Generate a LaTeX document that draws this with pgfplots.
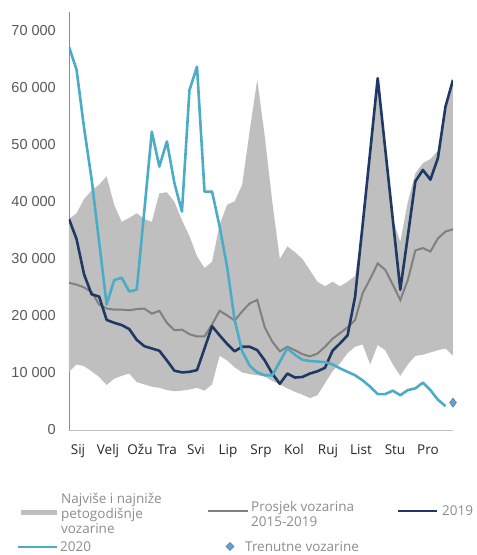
\documentclass[border=0pt]{standalone}
\usepackage{pgfplots}
\pgfplotsset{compat=1.18}
\usepackage{pgfplotstable}
\usepgfplotslibrary{fillbetween}
\usetikzlibrary{shapes.geometric}
\usepackage{fontspec}
\setmainfont{Open Sans}
\newfontfamily\arial{Liberation Sans}

\definecolor{band}{HTML}{BFBFBF}
\definecolor{avgc}{HTML}{808080}
\definecolor{navy}{HTML}{1F3864}
\definecolor{aqua}{HTML}{4BACC6}
\definecolor{txt}{HTML}{595959}
\definecolor{legtxt}{HTML}{8C8C8C}
\definecolor{axy}{HTML}{8C8C8C}
\definecolor{axx}{HTML}{BFBFBF}
\definecolor{dia}{HTML}{6E9FC8}
\definecolor{diab}{HTML}{4A7FAF}

% tjedni podaci, u tisucama
\pgfplotstableread{
w up lo avg a19
1 37.0 10.2 25.8 37.0
2 38.0 11.5 25.5 33.5
3 40.5 11.2 25.0 27.3
4 42.0 10.3 24.2 23.8
5 43.0 9.3 22.0 23.4
6 44.5 7.9 21.3 19.3
7 39.5 9.0 21.1 18.8
8 36.5 9.5 21.1 18.4
9 37.2 9.9 21.0 17.7
10 38.0 8.4 21.2 15.8
11 37.0 8.0 21.3 14.7
12 36.5 7.6 20.4 14.3
13 41.5 7.4 20.9 13.9
14 41.7 7.0 18.8 12.2
15 40.0 6.8 17.5 10.4
16 36.8 6.9 17.6 10.1
17 34.0 7.1 16.8 10.2
18 30.5 7.4 16.4 10.5
19 28.4 6.9 16.4 14.3
20 29.5 8.0 18.5 18.2
21 36.0 13.0 20.9 16.6
22 39.5 12.2 20.1 15.1
23 40.1 11.0 19.2 13.8
24 43.0 10.1 20.8 14.6
25 52.5 9.8 22.2 14.6
26 61.4 9.6 22.8 14.0
27 51.5 9.4 18.0 12.2
28 40.0 8.6 15.5 9.9
29 30.0 8.0 13.8 8.1
30 32.2 7.3 14.6 9.9
31 31.2 6.7 14.0 9.2
32 30.0 6.2 13.3 9.3
33 28.0 5.6 12.9 9.9
34 26.0 6.1 13.4 10.3
35 25.2 8.2 14.6 10.9
36 26.0 10.3 16.0 13.9
37 25.2 11.7 17.0 15.2
38 26.0 13.5 18.0 16.6
39 27.0 14.6 19.3 23.4
40 36.0 15.0 24.0 36.0
41 49.0 11.5 26.5 48.8
42 61.7 14.9 29.2 61.7
43 49.3 14.0 28.1 49.3
44 37.0 11.5 25.5 37.0
45 33.0 9.5 22.8 24.6
46 40.0 11.5 26.3 34.0
47 45.0 13.0 31.5 43.6
48 46.8 13.2 31.9 45.6
49 47.5 13.6 31.3 43.9
50 49.0 14.0 33.6 47.7
51 56.7 14.3 34.8 56.7
52 61.4 13.0 35.2 61.4
}\tjedni

\pgfplotstableread{
w a20
1 67.2
2 63.2
3 53.0
4 44.0
5 33.0
6 22.0
7 26.3
8 26.7
9 24.3
10 24.6
11 38.4
12 52.3
13 46.2
14 50.6
15 43.3
16 38.3
17 59.6
18 63.7
19 41.8
20 41.8
21 35.7
22 28.6
23 19.3
24 13.8
25 11.3
26 10.1
27 9.6
28 9.6
29 12.0
30 14.3
31 13.2
32 12.3
33 12.1
34 12.0
35 11.9
36 11.5
37 10.8
38 10.2
39 9.6
40 8.7
41 7.6
42 6.3
43 6.3
44 6.9
45 6.1
46 7.0
47 7.3
48 8.3
49 7.0
50 5.3
51 4.2
}\godina

\begin{document}
\begin{tikzpicture}
\begin{axis}[
    at={(0pt,0pt)}, anchor=south west,
    scale only axis, width=384pt, height=418pt,
    xmin=1, xmax=52, ymin=0, ymax=73.3,
    axis x line=bottom, axis y line=left,
    x axis line style={-, draw=axx, line width=1pt},
    y axis line style={-, draw=axy, line width=0.8pt},
    major tick length=0pt,
    ytick={0,10,20,30,40,50,60,70},
    yticklabels={0,10 000,20 000,30 000,40 000,50 000,60 000,70 000},
    yticklabel style={font=\arial\fontsize{14.5}{15}\selectfont, text=txt,
        anchor=east, inner sep=0pt, xshift=-13pt},
    xtick={2.2,6.18,10.43,14.02,17.87,22.12,26.5,30.88,35.4,39.78,44.3,48.68},
    xticklabels={Sij,Velj,Ožu,Tra,Svi,Lip,Srp,Kol,Ruj,List,Stu,Pro},
    xticklabel style={font=\fontsize{13.5}{15}\selectfont, text=black!85,
        anchor=base, inner sep=0pt, yshift=-24pt},
]
% raspon najvise / najnize
\addplot[name path=up, draw=none] table[x=w, y=up] {\tjedni};
\addplot[name path=lo, draw=none] table[x=w, y=lo] {\tjedni};
\addplot[band, draw=none] fill between[of=up and lo];
% prosjek 2015-2019
\addplot[avgc, line width=2pt] table[x=w, y=avg] {\tjedni};
% 2019
\addplot[navy, line width=2.6pt, line join=round] table[x=w, y=a19] {\tjedni};
% 2020
\addplot[aqua, line width=2.6pt, line join=round] table[x=w, y=a20] {\godina};
\end{axis}
% trenutne vozarine, bez rezanja na rubu
\begin{axis}[
    at={(0pt,0pt)}, anchor=south west,
    scale only axis, width=384pt, height=418pt,
    xmin=1, xmax=52, ymin=0, ymax=73.3,
    hide axis, clip=false,
]
\addplot[only marks, mark=diamond*, mark size=4.5pt,
    mark options={fill=dia, draw=diab, line width=0.6pt}] coordinates {(52,4.8)};
\end{axis}

% legenda
\begin{scope}[every node/.style={font=\fontsize{13.5}{15}\selectfont, text=legtxt,
    inner sep=0pt, align=left}]
\draw[band, line width=5pt] (-48pt,-82pt) -- (-12pt,-82pt);
\node[anchor=west] at (-8pt,-83pt) {Najviše i najniže\\petogodišnje\\vozarine};
\draw[avgc, line width=1.6pt] (139pt,-81pt) -- (179pt,-81pt);
\node[anchor=west] at (182pt,-84pt) {Prosjek vozarina\\2015-2019};
\draw[navy, line width=2.2pt] (329pt,-81pt) -- (368pt,-81pt);
\node[anchor=west] at (373pt,-81pt) {2019};
\draw[aqua, line width=2pt] (-51pt,-116.5pt) -- (-12pt,-116.5pt);
\node[anchor=west] at (-9pt,-116.5pt) {2020};
\node[draw=diab, fill=dia, diamond, minimum size=8pt, line width=0.6pt] at (161pt,-116.5pt) {};
\node[anchor=west] at (176pt,-116.5pt) {Trenutne vozarine};
\end{scope}
\pgfresetboundingbox
\useasboundingbox (-69pt,-125pt) rectangle (408pt,430pt);
\end{tikzpicture}
\end{document}
